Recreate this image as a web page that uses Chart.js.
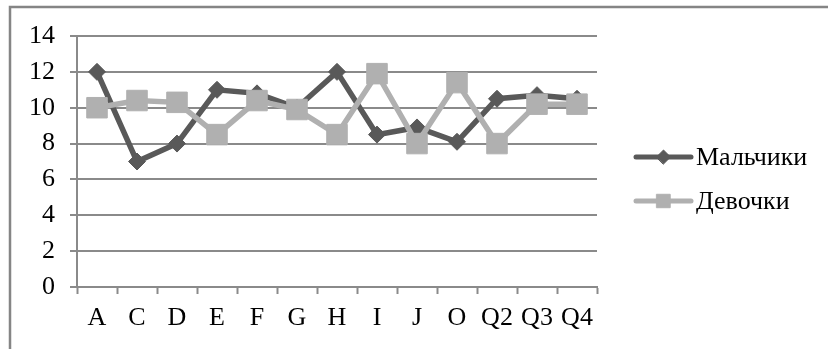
<!DOCTYPE html>
<html>
<head>
<meta charset="utf-8">
<script src="https://cdn.jsdelivr.net/npm/chart.js@4/dist/chart.umd.min.js"></script>
<style>
    html, body { margin: 0; padding: 0; background: #fff; }
    canvas { display: block; }
</style>
</head>
<body>
<canvas id="chart" width="828" height="349"></canvas>
<script>
// Chart data
const categories = ['A', 'C', 'D', 'E', 'F', 'G', 'H', 'I', 'J', 'O', 'Q2', 'Q3', 'Q4'];
const boys = [12, 7, 8, 11, 10.8, 10, 12, 8.5, 8.9, 8.1, 10.5, 10.7, 10.5];
const girls = [10, 10.4, 10.3, 8.5, 10.4, 9.9, 8.5, 11.9, 8, 11.4, 8, 10.2, 10.2];
const yTicks = [0, 2, 4, 6, 8, 10, 12, 14];

const seriesNames = ['Мальчики', 'Девочки'];
const darkGray = '#595959';
const lightGray = '#b0b0b0';
const axisGray = '#8a8a8a';
const fontFamily = '"Liberation Serif", "Times New Roman", serif';
const fontSize = 26;

// Frame around the chart (top and left edges only are visible)
const framePlugin = {
    id: 'frame',
    beforeDraw(chart) {
        const ctx = chart.ctx;
        ctx.save();
        ctx.strokeStyle = '#858585';
        ctx.lineWidth = 2.5;
        ctx.beginPath();
        ctx.moveTo(10, chart.height);
        ctx.lineTo(10, 7);
        ctx.lineTo(chart.width, 7);
        ctx.stroke();
        ctx.restore();
    }
};

// Legend with line + marker, like the office chart legend
const lineLegend = {
    id: 'lineLegend',
    afterDraw(chart) {
        const ctx = chart.ctx;
        const x0 = chart.chartArea.right + 39;
        const rows = [157, 201];
        ctx.save();
        chart.data.datasets.slice().sort((a, b) => a.legendIndex - b.legendIndex).forEach((ds, i) => {
            const y = rows[i];
            ctx.strokeStyle = ds.borderColor;
            ctx.lineWidth = 5;
            ctx.lineCap = 'round';
            ctx.beginPath();
            ctx.moveTo(x0, y);
            ctx.lineTo(x0 + 55, y);
            ctx.stroke();
            ctx.fillStyle = ds.backgroundColor;
            ctx.strokeStyle = ds.backgroundColor;
            ctx.lineWidth = 1;
            Chart.helpers.drawPoint(ctx, {
                pointStyle: ds.pointStyle,
                radius: ds.pointStyle === 'rect' ? 9.5 : 7,
                rotation: 0,
                borderWidth: 1
            }, x0 + 27.5, y);
            ctx.fillStyle = '#000';
            ctx.font = fontSize + 'px ' + fontFamily;
            ctx.textBaseline = 'middle';
            ctx.textAlign = 'left';
            ctx.fillText(ds.label, x0 + 60, y + 1);
        });
        ctx.restore();
    }
};

const ctx = document.getElementById('chart').getContext('2d');
new Chart(ctx, {
    type: 'line',
    data: {
        labels: categories,
        datasets: [{
            label: seriesNames[0],
            legendIndex: 0,
            data: boys,
            borderColor: darkGray,
            backgroundColor: darkGray,
            borderWidth: 5.5,
            pointStyle: 'rectRot',
            pointRadius: 8.5,
            pointBorderWidth: 1,
            tension: 0,
            order: 1
        }, {
            label: seriesNames[1],
            legendIndex: 1,
            data: girls,
            borderColor: lightGray,
            backgroundColor: lightGray,
            borderWidth: 5.5,
            pointStyle: 'rect',
            pointRadius: 14.5,
            pointBorderWidth: 1,
            tension: 0,
            order: 0
        }]
    },
    options: {
        responsive: false,
        animation: false,
        layout: {
            padding: { left: 10, top: 36, right: 231, bottom: 0 }
        },
        plugins: {
            legend: { display: false },
            tooltip: { enabled: false }
        },
        scales: {
            x: {
                offset: true,
                afterFit: (scale) => { scale.height = 62; },
                grid: {
                    offset: true,
                    drawOnChartArea: false,
                    drawTicks: true,
                    tickLength: 7,
                    tickWidth: 2,
                    tickColor: axisGray
                },
                border: { display: true, color: axisGray, width: 2 },
                ticks: {
                    color: '#000',
                    padding: 9,
                    maxRotation: 0,
                    autoSkip: false,
                    font: { family: fontFamily, size: fontSize }
                }
            },
            y: {
                min: 0,
                max: 14,
                afterFit: (scale) => { scale.width = 67; },
                afterBuildTicks: (scale) => { scale.ticks = yTicks.map(v => ({ value: v })); },
                grid: {
                    color: axisGray,
                    lineWidth: 2,
                    drawTicks: true,
                    tickLength: 7
                },
                border: { display: true, color: axisGray, width: 2 },
                ticks: {
                    color: '#000',
                    padding: 15,
                    font: { family: fontFamily, size: fontSize }
                }
            }
        }
    },
    plugins: [framePlugin, lineLegend]
});
</script>
</body>
</html>
